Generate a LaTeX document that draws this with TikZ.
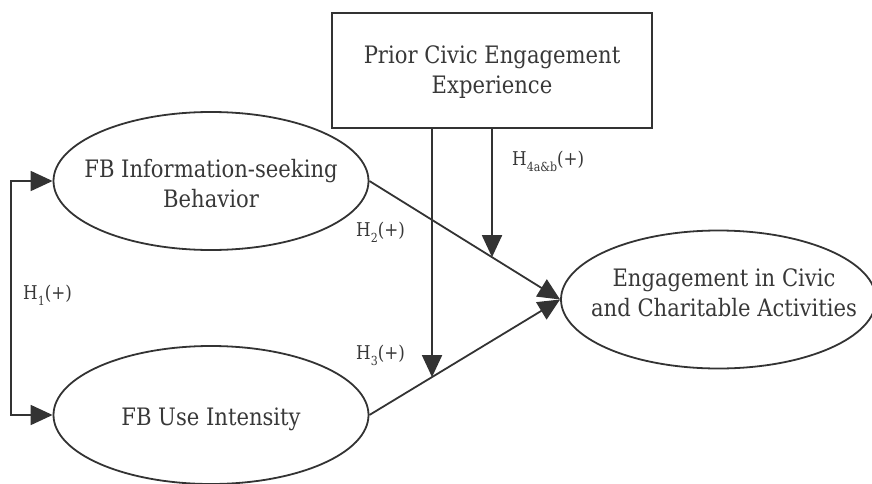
\documentclass[tikz,border=0pt]{standalone}
\usepackage{fontspec}
\setmainfont{DejaVu Serif}[FakeStretch=0.88]
\usetikzlibrary{arrows.meta,shapes.geometric,calc}
\definecolor{ink}{HTML}{333333}
\definecolor{tink}{HTML}{383838}
\newcommand{\hsub}[1]{\raisebox{-6pt}{\fontsize{12.5}{13}\selectfont #1}}
\begin{document}
\begin{tikzpicture}[x=1pt,y=-1pt,
  ell/.style={draw=ink, line width=1.8pt, ellipse, minimum width=315pt, minimum height=138pt, inner sep=0pt},
  rectbox/.style={draw=ink, line width=1.8pt, minimum width=320pt, minimum height=115pt, inner sep=0pt},
  txt/.style={text=tink, font=\fontsize{24}{30}\selectfont, align=center, inner sep=0pt},
  lab/.style={text=tink, font=\fontsize{19}{22}\selectfont, inner sep=0pt, anchor=base west},
  conn/.style={draw=ink, line width=1.8pt, -{Triangle[length=22pt,width=20pt]}},
]
\useasboundingbox (0,0) rectangle (872,484);
% nodes
\node[rectbox] (box) at (492,70.5) {};
\node[txt] (boxt) at (492,72.4) {Prior Civic Engagement\\Experience};
\node[ell] (e1) at (211,181) {};
\node[txt] (e1t) at (211,184) {FB Information-seeking\\Behavior};
\node[ell] (e2) at (211,415) {};
\node[txt] (e2t) at (211,419) {FB Use Intensity};
\node[ell] (e3) at (718.5,299.5) {};
\node[txt] (e3t) at (724,293) {Engagement in Civic\\and Charitable Activities};
% connectors
\draw[conn] (e1.east) -- (e3.west);
\draw[conn] (e2.east) -- (e3.west);
\draw[draw=ink, line width=1.8pt, {Triangle[length=22pt,width=20pt]}-{Triangle[length=22pt,width=20pt]}]
  (e1.west) -- ++(-41.5,0) coordinate (h1c) |- (e2.west);
\coordinate (p3) at (intersection of e2.east--e3.west and 432,0--432,10);
\coordinate (p4) at (intersection of e1.east--e3.west and 492,0--492,10);
\draw[conn] (box.south -| p3) -- (p3);
\draw[conn] (box.south) -- (p4);
% labels
\node[lab] (l1) at (23,299) {H\hsub{1}(+)};
\node[lab] (l2) at (356,236) {H\hsub{2}(+)};
\node[lab] (l3) at (356,359) {H\hsub{3}(+)};
\node[lab] (l4) at (512,165) {H\hsub{4a\&b}(+)};
\end{tikzpicture}
\end{document}
